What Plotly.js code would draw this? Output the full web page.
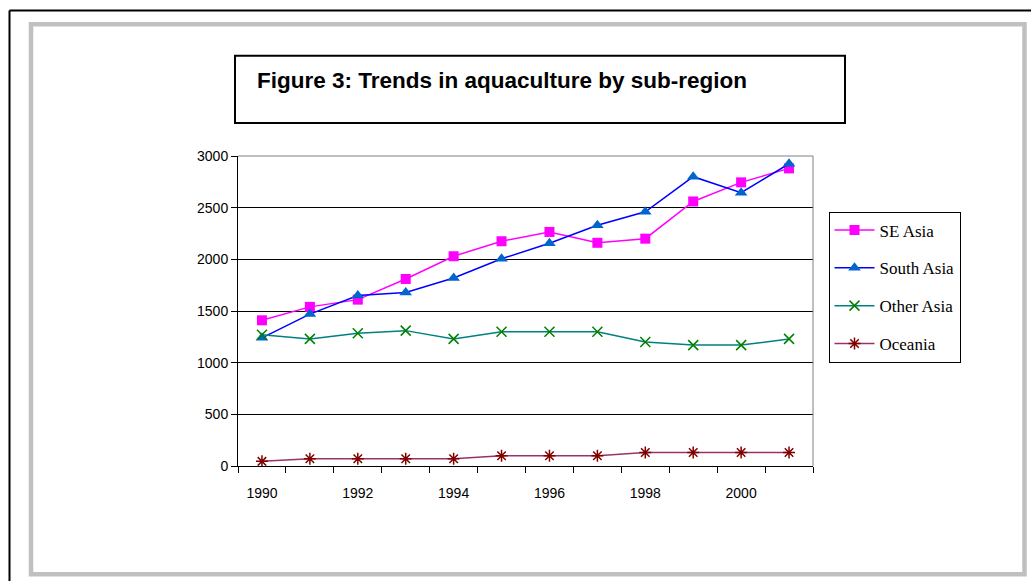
<!DOCTYPE html>
<html>
<head>
<meta charset="utf-8">
<script src="https://cdn.plot.ly/plotly-3.0.1.min.js"></script>
<style>
  html, body { margin: 0; padding: 0; background: #ffffff; }
  #chart { width: 1031px; height: 581px; }
</style>
</head>
<body>
<div id="chart"></div>
<script>
// ---- data ----
const years = [1990, 1991, 1992, 1993, 1994, 1995, 1996, 1997, 1998, 1999, 2000, 2001];
const seAsia = [1410, 1540, 1610, 1810, 2030, 2175, 2265, 2160, 2200, 2560, 2745, 2880];
const southAsia = [1240, 1470, 1650, 1680, 1820, 2005, 2155, 2330, 2460, 2800, 2645, 2925];
const otherAsia = [1270, 1230, 1285, 1310, 1230, 1300, 1300, 1300, 1200, 1170, 1170, 1230];
const oceania = [45, 70, 70, 70, 70, 100, 100, 100, 130, 130, 130, 130];
const xTickYears = [1990, 1992, 1994, 1996, 1998, 2000];
const seriesNames = ["SE Asia", "South Asia", "Other Asia", "Oceania"];
const titleText = "Figure 3: Trends in aquaculture by sub-region";

// category boundaries for the tick marks
const boundaries = years.map(y => y - 0.5).concat([years[years.length - 1] + 0.5]);

const lineW = 1.5;
const traces = [
  {
    x: years, y: seAsia, name: seriesNames[0], legendgroup: "g1",
    mode: "lines+markers", type: "scatter",
    line: { color: "#FF00FF", width: lineW },
    marker: { symbol: "square", size: 10, color: "#FF00FF" }
  },
  {
    x: years, y: southAsia, name: seriesNames[1], legendgroup: "g2",
    mode: "lines+markers", type: "scatter",
    line: { color: "#0000FF", width: lineW },
    marker: { symbol: "triangle-up", size: 11, color: "#0066CC" }
  },
  {
    x: years, y: otherAsia, name: seriesNames[2], legendgroup: "g3",
    mode: "lines+markers", type: "scatter",
    line: { color: "#008080", width: lineW },
    marker: { symbol: "x-thin-open", size: 10, color: "#008000", line: { color: "#008000", width: 1.5 } }
  },
  {
    x: years, y: oceania, name: seriesNames[3], legendgroup: "g4",
    mode: "lines+markers", type: "scatter",
    line: { color: "#993366", width: lineW },
    marker: { symbol: "asterisk-open", size: 10, color: "#800000", line: { color: "#800000", width: 1.5 } }
  }
];

// plot area in pixels: x 238..813, y 156..466
const PL = 238, PR = 813, PT = 156, PB = 466;
const px = v => (v - PL) / (PR - PL);
const py = v => (PB - v) / (PB - PT);

const layout = {
  width: 1031, height: 581,
  paper_bgcolor: "#ffffff", plot_bgcolor: "#ffffff",
  margin: { l: PL, r: 1031 - PR, t: PT, b: 581 - PB, pad: 0 },
  showlegend: true,
  title: {
    text: titleText,
    font: { family: "Liberation Sans, Arial, sans-serif", size: 22.5, color: "#000000", weight: "bold" },
    xref: "container", yref: "container",
    x: 257 / 1031, xanchor: "left",
    y: 1 - 80 / 581, yanchor: "middle"
  },
  font: { family: "Liberation Sans, Arial, sans-serif", size: 14, color: "#000000" },
  xaxis: {
    type: "linear",
    range: [years[0] - 0.5, years[years.length - 1] + 0.5],
    tickmode: "array", tickvals: xTickYears, ticktext: xTickYears.map(String),
    ticks: "", showgrid: false, zeroline: false,
    showline: true, linecolor: "#000000", linewidth: 1,
    ticklabelstandoff: 14,
    tickfont: { family: "Liberation Sans, Arial, sans-serif", size: 14, color: "#000000" },
    minor: { tickmode: "array", tickvals: boundaries, ticks: "outside", ticklen: 6, tickcolor: "#000000", tickwidth: 1, showgrid: false },
    fixedrange: true
  },
  yaxis: {
    range: [0, 3000], dtick: 500, tick0: 0,
    ticks: "outside", ticklen: 6, tickcolor: "#000000", tickwidth: 1,
    showgrid: true, gridcolor: "#000000", gridwidth: 1,
    zeroline: false, showline: true, linecolor: "#000000", linewidth: 1,
    tickfont: { family: "Liberation Sans, Arial, sans-serif", size: 14, color: "#000000" },
    fixedrange: true
  },
  legend: {
    x: px(828.5), y: py(211.5), xanchor: "left", yanchor: "top",
    bgcolor: "#ffffff", bordercolor: "#000000", borderwidth: 1,
    font: { family: "Liberation Serif, Times New Roman, serif", size: 17, color: "#000000" },
    traceorder: "grouped", tracegroupgap: 12.7, itemwidth: 40
  },
  shapes: [
    // outer black frame (left and top)
    { type: "line", xref: "paper", yref: "paper", x0: px(9.5), x1: px(9.5), y0: py(10.5), y1: py(590), line: { color: "#000000", width: 2 } },
    { type: "line", xref: "paper", yref: "paper", x0: px(9.5), x1: px(1040), y0: py(10.5), y1: py(10.5), line: { color: "#000000", width: 2 } },
    // grey inner frame
    { type: "rect", xref: "paper", yref: "paper", x0: px(31), x1: px(1024.5), y0: py(574.2), y1: py(24.3), line: { color: "#C0C0C0", width: 4.5 } },
    // title box
    { type: "rect", xref: "paper", yref: "paper", x0: px(235), x1: px(845), y0: py(123), y1: py(55.8), line: { color: "#000000", width: 2 } },
    // plot area border (grey top / right)
    { type: "line", xref: "paper", yref: "paper", x0: 0, x1: 1, y0: 1, y1: 1, line: { color: "#808080", width: 1 } },
    { type: "line", xref: "paper", yref: "paper", x0: 1, x1: 1, y0: 0, y1: 1, line: { color: "#808080", width: 1 } }
  ]
};

Plotly.newPlot("chart", traces, layout, { staticPlot: true, displayModeBar: false });
</script>
</body>
</html>
